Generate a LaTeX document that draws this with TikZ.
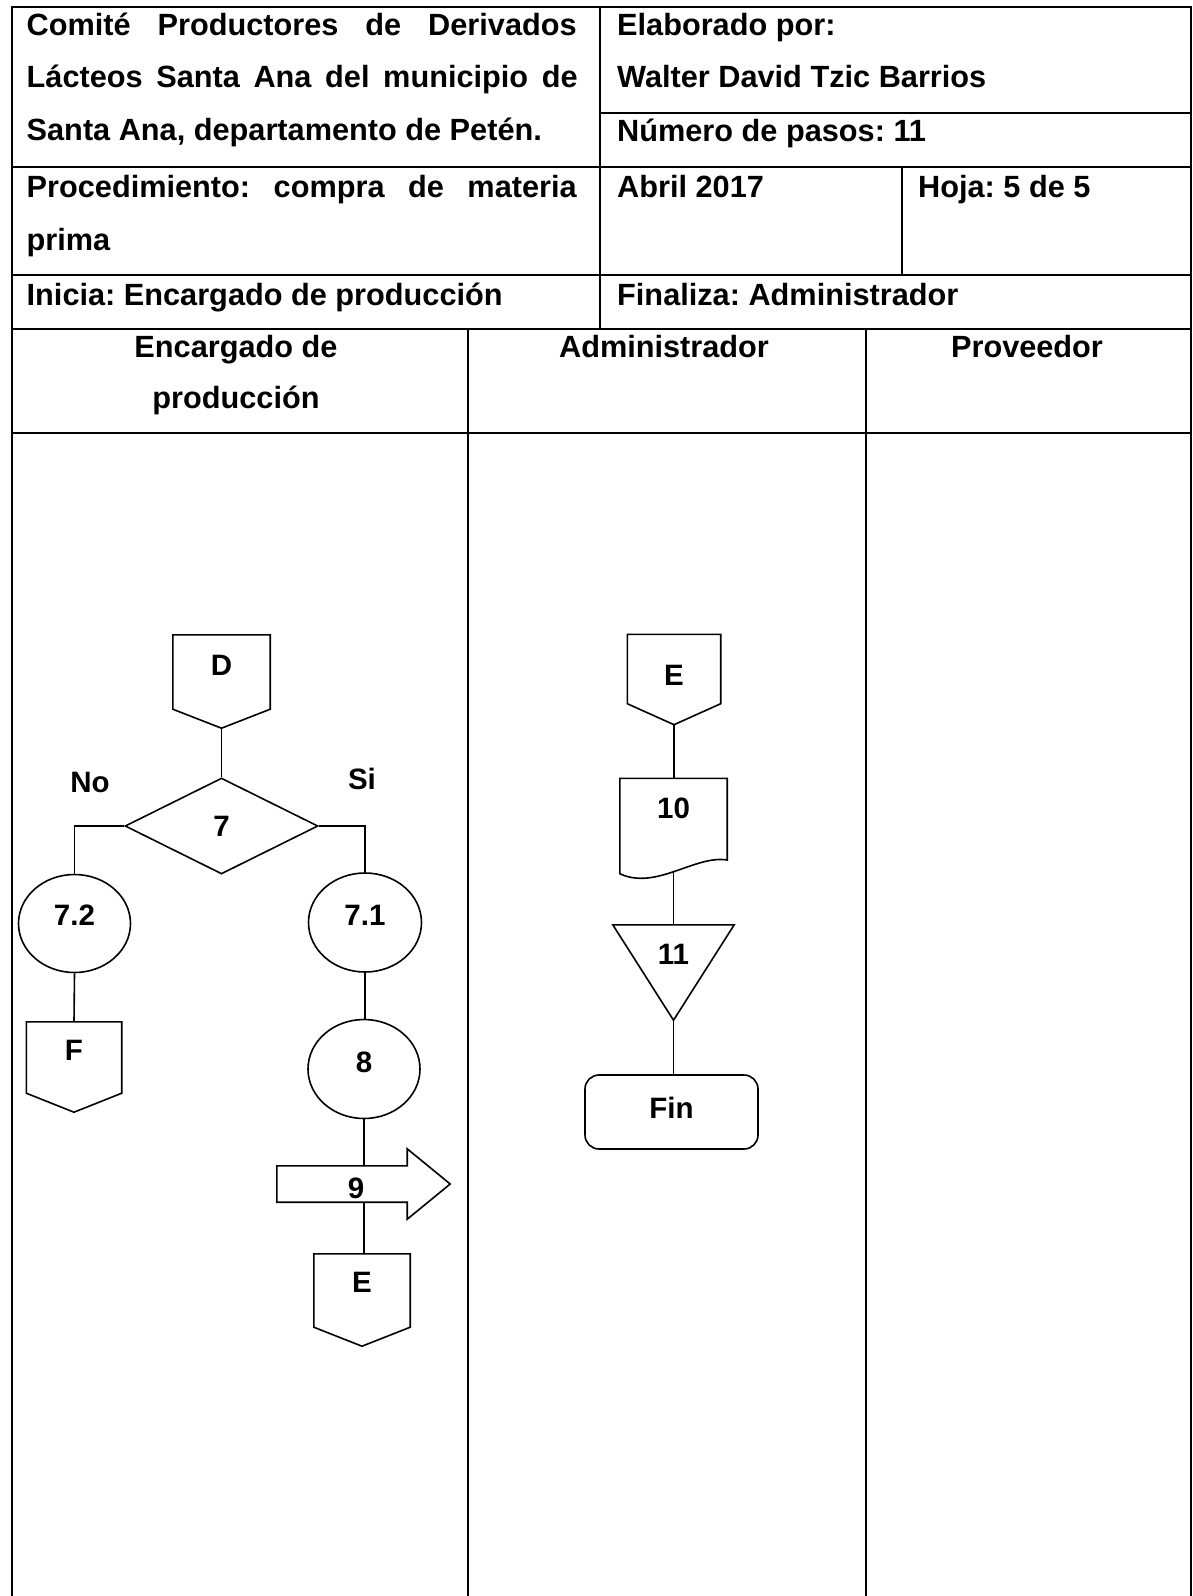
\documentclass[tikz,border=0pt]{standalone}
\usepackage{fontspec}
\setmainfont{Liberation Sans}
\usetikzlibrary{shapes.geometric}
\frenchspacing
% raise a label inside its shape without changing the box size
\newcommand\liftby[2]{\raisebox{#1}[\height][\depth]{#2}}
\begin{document}
\begin{tikzpicture}[x=1pt,y=-1pt,
  grid/.style={line width=2pt},
  hdr/.style={anchor=base west, inner sep=0pt, font=\fontsize{30.7}{36}\selectfont\bfseries},
  lanehdr/.style={anchor=base, inner sep=0pt, font=\fontsize{30.7}{36}\selectfont\bfseries},
  lbl/.style={inner sep=0pt, font=\fontsize{29.5}{34}\selectfont\bfseries},
  shp/.style={draw, line width=1.6pt, inner sep=0pt, font=\fontsize{29.5}{34}\selectfont\bfseries},
  conn/.style={line width=1.6pt},
  offpage/.style={rectangle, inner sep=0pt, minimum width=95pt, minimum height=71pt,
    font=\fontsize{29.5}{34}\selectfont\bfseries,
    append after command={\pgfextra{\draw[line width=1.6pt]
      (\tikzlastnode.north west) -- (\tikzlastnode.north east) -- (\tikzlastnode.south east)
      -- ([yshift=-#1]\tikzlastnode.south) -- (\tikzlastnode.south west) -- cycle;}}},
  offpage/.default=19pt,
  blank/.style={rectangle, inner sep=0pt, font=\fontsize{29.5}{34}\selectfont\bfseries}
]
\useasboundingbox (0,0) rectangle (1193,1596);

% ---------- form grid ----------
\draw[grid] (11.5,1596) -- (11.5,7) -- (1191,7) -- (1191,1596);
\draw[grid] (600,7) -- (600,329);
\draw[grid] (600,113) -- (1191,113);
\draw[grid] (11.5,167) -- (1191,167);
\draw[grid] (902,167) -- (902,275);
\draw[grid] (11.5,275) -- (1191,275);
\draw[grid] (11.5,329) -- (1191,329);
\draw[grid] (468,329) -- (468,1596);
\draw[grid] (866,329) -- (866,1596);
\draw[grid] (11.5,433) -- (1191,433);

% ---------- header texts ----------
\node[hdr] (h1) at (26.5,35) {\makebox[550pt][s]{Comité Productores de Derivados}};
\node[hdr] (h2) at (26.5,87) {\makebox[551pt][s]{Lácteos Santa Ana del municipio de}};
\node[hdr] (h3) at (26.5,140) {Santa Ana, departamento de Petén.};
\node[hdr] (h4) at (617,35) {Elaborado por:};
\node[hdr] (h5) at (617,87) {Walter David Tzic Barrios};
\node[hdr] (h6) at (617,141) {Número de pasos: 11};
\node[hdr] (h7) at (26.5,197) {\makebox[550pt][s]{Procedimiento: compra de materia}};
\node[hdr] (h8) at (26.5,250) {prima};
\node[hdr] (h9) at (617,197) {Abril 2017};
\node[hdr] (h10) at (918,197) {Hoja: 5 de 5};
\node[hdr] (h11) at (26.5,305) {Inicia: Encargado de producción};
\node[hdr] (h12) at (617,305) {Finaliza: Administrador};

\node[lanehdr] (l1a) at (236,357) {Encargado de};
\node[lanehdr] (l1b) at (236,408) {producción};
\node[lanehdr] (l2) at (664,357) {Administrador};
\node[lanehdr] (l3) at (1027,357) {Proveedor};

% ---------- lane 1: Encargado de producción ----------
\node[offpage, minimum width=97pt, minimum height=74pt] (D) at (221.5,672) {\liftby{7pt}{D}};
\node[shp, diamond, minimum width=193pt, minimum height=96pt] (q7) at (221.5,826) {7};
\node[lbl] (no) at (90,782) {No};
\node[lbl] (si) at (362,779) {Si};
\node[shp, ellipse, minimum width=112pt, minimum height=98pt] (n72) at (74.5,923.5) {\liftby{8pt}{7.2}};
\node[shp, ellipse, minimum width=113pt, minimum height=99pt] (n71) at (365,922.5) {\liftby{7.5pt}{7.1}};
\node[offpage] (F) at (74,1057.5) {\liftby{7.5pt}{F}};
\node[shp, ellipse, minimum width=112pt, minimum height=99pt] (n8) at (364,1069) {\liftby{7pt}{8}};
\node[blank, minimum width=130pt, minimum height=36pt,
      label={[lbl, xshift=14pt, yshift=-4pt]center:9}] (a9) at (342,1184) {};
\draw[conn] (a9.north west) -- (a9.north east) -- ([yshift=17pt]a9.north east)
  -- ([xshift=43pt]a9.east) -- ([yshift=-17pt]a9.south east) -- (a9.south east)
  -- (a9.south west) -- cycle;
\node[offpage, minimum width=96pt, minimum height=73pt] (Eb) at (362,1290.5) {\liftby{8.5pt}{E}};

\draw[conn] ([yshift=-19pt]D.south) -- (q7.north);
\draw[conn] (q7.west) -| (n72.north);
\draw[conn] (q7.east) -| (n71.north);
\draw[conn] (n72.south) -- (F.north);
\draw[conn] (n71.south) -- (n71.south |- n8.north);
\draw[conn] (n8.south) -- (n8.south |- a9.north);
\draw[conn] (n8.south |- a9.south) -- (n8.south |- Eb.north);

% ---------- lane 2: Administrador ----------
\node[offpage=21pt, minimum width=93pt, minimum height=69pt] (Er) at (674,669) {\liftby{-6pt}{E}};
\node[blank, minimum width=107pt, minimum height=95pt] (doc) at (673.5,826) {\liftby{18pt}{10}};
\draw[conn] (doc.north west) -- (doc.north east) -- ([yshift=13.7pt]doc.south east)
  .. controls ([xshift=-32pt,yshift=19pt]doc.south east) and ([xshift=36pt,yshift=-17pt]doc.south west)
  .. (doc.south west) -- cycle;
\node[blank, minimum width=121pt, minimum height=95pt] (tri) at (673.5,972.5) {\liftby{18.5pt}{11}};
\draw[conn] (tri.north west) -- (tri.north east) -- (tri.south) -- cycle;
\node[shp, rounded corners=14pt, minimum width=173pt, minimum height=74pt] (fin) at (671.5,1112) {\liftby{4pt}{Fin}};

\draw[conn] ([yshift=-21pt]Er.south) -- (Er.south |- doc.north);
\draw[conn] ([yshift=3pt]doc.south) -- (tri.north);
\draw[conn] (tri.south) -- (tri.south |- fin.north);
\end{tikzpicture}
\end{document}
